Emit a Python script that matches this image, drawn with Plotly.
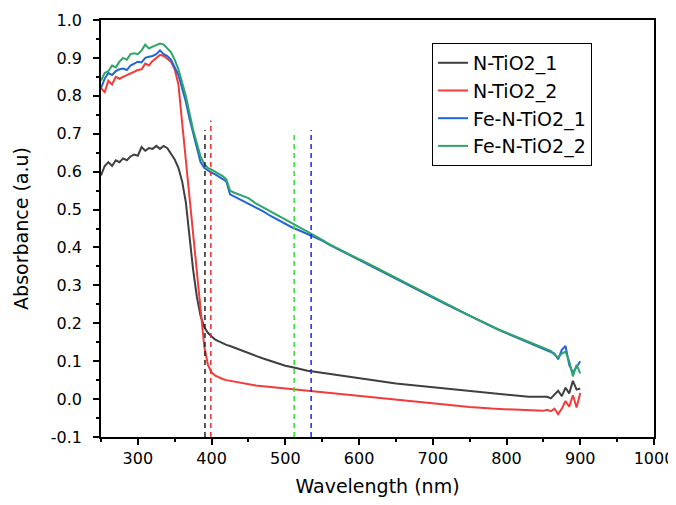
import plotly.graph_objects as go

# Wavelength grid (nm)
wavelength = [250, 255, 260, 265, 270, 275, 280, 285, 290, 295, 300, 305, 310, 315, 320, 325,
              330, 335, 340, 345, 350, 355, 360, 365, 370, 375, 380, 385, 390, 395, 400,
              405, 410, 415, 420, 425,
              430, 440, 450, 460, 470, 480, 490, 500, 510, 520, 530, 540, 550, 560, 570, 580,
              590, 600, 610, 620, 630, 640, 650, 660, 670, 680, 690, 700, 710, 720, 730, 740,
              750, 760, 770, 780, 790, 800, 810, 820, 830, 840, 850,
              855, 860, 865, 870, 875, 880, 885, 890, 895, 900]

n_tio2_1 = [0.59, 0.615, 0.625, 0.615, 0.63, 0.625, 0.635, 0.63, 0.64, 0.645, 0.642, 0.665, 0.655, 0.662, 0.66, 0.668,
            0.66, 0.668, 0.662, 0.645, 0.632, 0.61, 0.575, 0.52, 0.43, 0.34, 0.27, 0.22, 0.19, 0.175, 0.165,
            0.157, 0.152, 0.147, 0.143, 0.14,
            0.136, 0.128, 0.121, 0.114, 0.107, 0.1, 0.094, 0.088, 0.084, 0.079, 0.075, 0.072, 0.069, 0.066, 0.063, 0.06,
            0.058, 0.055, 0.052, 0.049, 0.046, 0.044, 0.041, 0.039, 0.037, 0.035, 0.033, 0.031, 0.029, 0.027, 0.025, 0.023,
            0.021, 0.019, 0.017, 0.015, 0.012, 0.01, 0.009, 0.008, 0.006, 0.006, 0.005,
            0.006, 0.002, 0.012, 0.022, 0.008, 0.03, 0.015, 0.048, 0.025, 0.028]

n_tio2_2 = [0.82, 0.81, 0.84, 0.83, 0.85, 0.845, 0.85, 0.855, 0.86, 0.865, 0.868, 0.87, 0.885, 0.88, 0.892, 0.9,
            0.908, 0.905, 0.898, 0.89, 0.87, 0.83, 0.73, 0.63, 0.53, 0.43, 0.33, 0.23, 0.14, 0.09, 0.07,
            0.062, 0.057, 0.053, 0.05, 0.048,
            0.046, 0.042, 0.039, 0.036, 0.034, 0.032, 0.03, 0.028, 0.026, 0.024, 0.023, 0.021, 0.019, 0.017, 0.015, 0.013,
            0.011, 0.009, 0.007, 0.004, 0.002, 0.0, -0.002, -0.004, -0.006, -0.008, -0.01, -0.012, -0.014, -0.016, -0.018, -0.019,
            -0.021, -0.022, -0.024, -0.025, -0.026, -0.027, -0.028, -0.029, -0.03, -0.03, -0.031,
            -0.028, -0.032, -0.025, -0.04, -0.025, -0.005, -0.02, 0.01, -0.022, 0.016]

fe_n_tio2_1 = [0.82, 0.845, 0.86, 0.855, 0.865, 0.87, 0.872, 0.868, 0.88, 0.885, 0.89, 0.888, 0.9, 0.903, 0.905, 0.91,
               0.92, 0.91, 0.905, 0.895, 0.877, 0.855, 0.82, 0.785, 0.74, 0.7, 0.665, 0.625, 0.61, 0.603, 0.597,
               0.593, 0.587, 0.58, 0.574, 0.54,
               0.535, 0.527, 0.517, 0.505, 0.495, 0.483, 0.472, 0.462, 0.452, 0.444, 0.436, 0.428, 0.418, 0.407, 0.397, 0.386,
               0.377, 0.368, 0.358, 0.348, 0.338, 0.328, 0.318, 0.307, 0.297, 0.287, 0.277, 0.268, 0.258, 0.248, 0.239, 0.229,
               0.219, 0.21, 0.2, 0.191, 0.182, 0.174, 0.166, 0.157, 0.149, 0.141, 0.133,
               0.128, 0.125, 0.12, 0.105, 0.13, 0.14, 0.09, 0.07, 0.085, 0.1]

fe_n_tio2_2 = [0.84, 0.86, 0.865, 0.88, 0.875, 0.89, 0.9, 0.895, 0.91, 0.912, 0.91, 0.92, 0.935, 0.925, 0.93, 0.935,
               0.938, 0.935, 0.925, 0.915, 0.895, 0.87, 0.835, 0.8, 0.755, 0.71, 0.675, 0.64, 0.62, 0.61, 0.605,
               0.6, 0.594, 0.588, 0.58, 0.55,
               0.545, 0.538, 0.53, 0.516, 0.505, 0.495, 0.484, 0.474, 0.463, 0.452, 0.442, 0.432, 0.42, 0.408, 0.398, 0.387,
               0.378, 0.369, 0.36, 0.35, 0.339, 0.329, 0.319, 0.308, 0.298, 0.288, 0.278, 0.268, 0.259, 0.249, 0.24, 0.23,
               0.22, 0.211, 0.201, 0.192, 0.183, 0.175, 0.167, 0.158, 0.15, 0.142, 0.134,
               0.13, 0.127, 0.117, 0.11, 0.12, 0.125, 0.1, 0.06, 0.09, 0.068]

series_names = ["N-TiO2_1", "N-TiO2_2", "Fe-N-TiO2_1", "Fe-N-TiO2_2"]
series_values = [n_tio2_1, n_tio2_2, fe_n_tio2_1, fe_n_tio2_2]
series_colors = ["#3f3f3f", "#f23b3b", "#1f66d6", "#2ea466"]

# Band-edge markers (nm) and their top values
edge_wavelengths = [391, 399, 512, 535]
edge_tops = [0.71, 0.735, 0.708, 0.71]
edge_colors = ["#222222", "#ee2a2a", "#33dd33", "#2222ff"]
axis_bottom = -0.1

# Tick labels
y_tick_values = [-0.1, 0.0, 0.1, 0.2, 0.3, 0.4, 0.5, 0.6, 0.7, 0.8, 0.9, 1.0]
y_tick_labels = ["-0.1", "0.0", "0.1", "0.2", "0.3", "0.4", "0.5", "0.6", "0.7", "0.8", "0.9", "1.0"]
x_tick_values = [300, 400, 500, 600, 700, 800, 900, 1000]
x_tick_labels = ["300", "400", "500", "600", "700", "800", "900", "1000"]

FONT = "DejaVu Sans"

fig = go.Figure()
for name, vals, col in zip(series_names, series_values, series_colors):
    fig.add_trace(go.Scatter(x=wavelength, y=vals, mode="lines", name=name,
                             line=dict(color=col, width=2)))

for xw, top, col in zip(edge_wavelengths, edge_tops, edge_colors):
    fig.add_trace(go.Scatter(x=[xw, xw], y=[axis_bottom, top], mode="lines",
                             showlegend=False, hoverinfo="skip",
                             line=dict(color=col, width=1.5, dash="5px,4px")))

axis_common = dict(showline=True, linecolor="black", linewidth=1.5, mirror=True,
                   ticks="outside", ticklen=6, tickwidth=1.5, tickcolor="black",
                   showgrid=False, zeroline=False, automargin=False,
                   ticklabeloverflow="allow",
                   tickfont=dict(family=FONT, size=16, color="black"))

fig.update_xaxes(range=[250, 1000], tickvals=x_tick_values, ticktext=x_tick_labels,
                 minor=dict(dtick=50, tick0=0, ticks="outside", ticklen=3, tickcolor="black"),
                 title=dict(text="Wavelength (nm)", font=dict(family=FONT, size=19, color="black"), standoff=16),
                 ticklabelstandoff=0,
                 **axis_common)
fig.update_yaxes(range=[-0.1, 1.0], tickvals=y_tick_values, ticktext=y_tick_labels,
                 minor=dict(dtick=0.05, tick0=0, ticks="outside", ticklen=3, tickcolor="black"),
                 title=dict(text="Absorbance (a.u)", font=dict(family=FONT, size=19, color="black"), standoff=17),
                 ticklabelstandoff=8,
                 **axis_common)

# The page adds an 8px body margin, so the figure is offset by 8px
fig.update_layout(
    width=668, height=489,
    margin=dict(l=93, r=22, t=12, b=60),
    paper_bgcolor="white", plot_bgcolor="white",
    font=dict(family=FONT, color="black"),
    legend=dict(x=0.5986, y=0.945, xanchor="left", yanchor="top",
                bgcolor="white", bordercolor="black", borderwidth=1,
                font=dict(family=FONT, size=19, color="black"),
                tracegroupgap=0),
)

fig.write_html("out.html")
